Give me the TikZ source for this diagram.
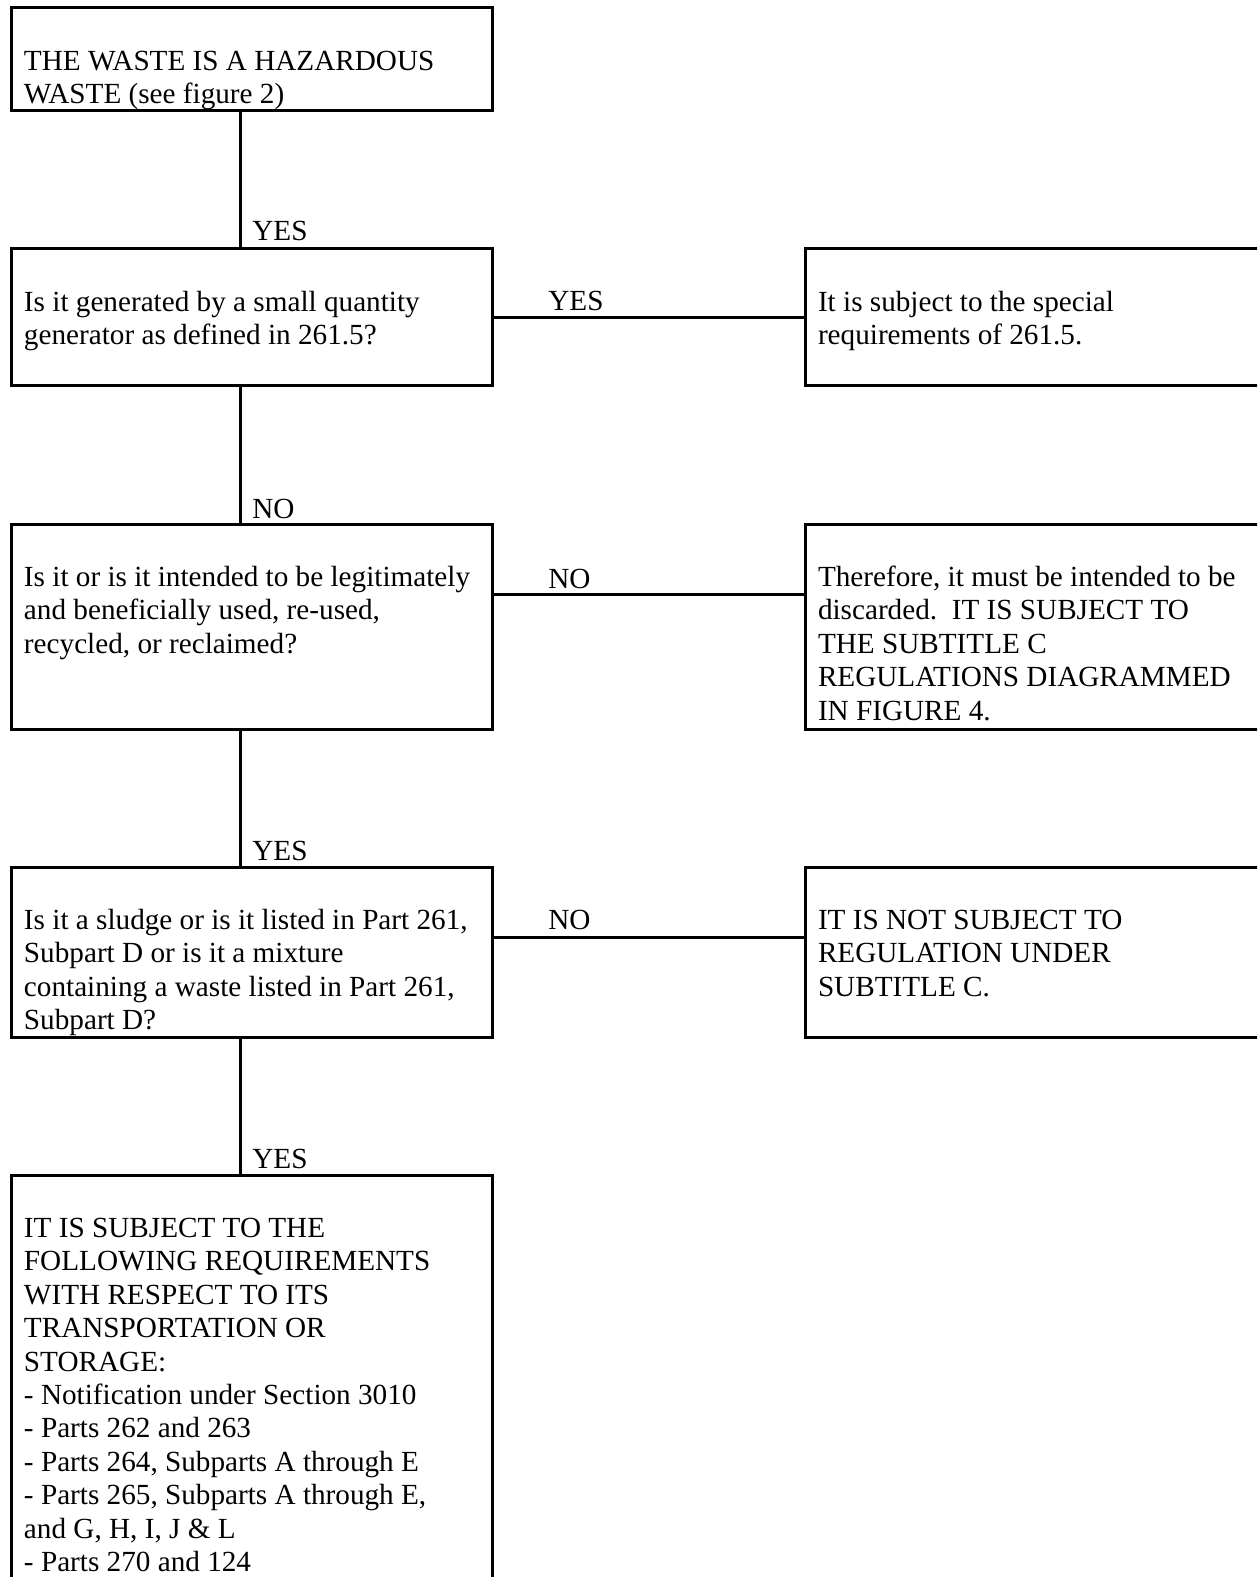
\documentclass[tikz,border=0pt]{standalone}
\usepackage{fontspec}
\setmainfont{Liberation Serif}
\usepackage{tikz}
\usetikzlibrary{positioning,calc}

% text of a box: fixed height, set from the top
\newcommand{\flowtext}[2]{\parbox[b][#1][t]{227.5pt}{\raggedright\vspace*{19.6pt}\strut #2}}

\tikzset{
  flowbox/.style={draw, line width=1.5pt, anchor=north west, outer sep=0pt,
    inner xsep=6.5pt, inner ysep=0pt, minimum width=240.5pt,
    font=\fontsize{14.6pt}{16.7pt}\selectfont},
  answer/.style={anchor=base west, inner sep=0pt,
    font=\fontsize{14.6pt}{16.7pt}\selectfont},
  link/.style={line width=1.5pt}
}

\begin{document}
\begin{tikzpicture}[x=0.5pt,y=-0.5pt]

\useasboundingbox (0,0) rectangle (1257,1577);
\clip (0,0) rectangle (1257,1577);

% Left column of questions
\node[flowbox] (waste) at (11,8) {\flowtext{51.5pt}{THE WASTE IS A HAZARDOUS\\WASTE (see figure 2)}};
\node[flowbox] (smallq) at (11,249) {\flowtext{68.5pt}{Is it generated by a small quantity\\generator as defined in 261.5?}};
\node[flowbox] (reuse) at (11,524) {\flowtext{102.5pt}{Is it or is it intended to be legitimately\\and beneficially used, re-used,\\recycled, or reclaimed?}};
\node[flowbox] (sludge) at (11,867) {\flowtext{85pt}{Is it a sludge or is it listed in Part 261,\\Subpart D or is it a mixture\\containing a waste listed in Part 261,\\Subpart D?}};
\node[flowbox] (subject) at (11,1175) {\flowtext{225pt}{IT IS SUBJECT TO THE\\FOLLOWING REQUIREMENTS\\WITH RESPECT TO ITS\\TRANSPORTATION OR\\STORAGE:\\- Notification under Section 3010\\- Parts 262 and 263\\- Parts 264, Subparts A through E\\- Parts 265, Subparts A through E,\\and G, H, I, J \& L\\- Parts 270 and 124}};

% Right column of outcomes
\node[flowbox] (special) at (805,249) {\flowtext{68.5pt}{It is subject to the special\\requirements of 261.5.}};
\node[flowbox] (discard) at (805,524) {\flowtext{102.5pt}{Therefore, it must be intended to be\\discarded.\ \ IT IS SUBJECT TO\\THE SUBTITLE C\\REGULATIONS DIAGRAMMED\\IN FIGURE 4.}};
\node[flowbox] (notsubj) at (805,867) {\flowtext{85pt}{IT IS NOT SUBJECT TO\\REGULATION UNDER\\SUBTITLE C.}};

% Vertical connectors
\coordinate (trunk) at (240,0);
\draw[link] (waste.south -| trunk) -- (smallq.north -| trunk);
\draw[link] (smallq.south -| trunk) -- (reuse.north -| trunk);
\draw[link] (reuse.south -| trunk) -- (sludge.north -| trunk);
\draw[link] (sludge.south -| trunk) -- (subject.north -| trunk);

% Horizontal connectors
\draw[link] ([yshift=-34.5pt]smallq.north east) -- ([yshift=-34.5pt]special.north west);
\draw[link] ([yshift=-35pt]reuse.north east) -- ([yshift=-35pt]discard.north west);
\draw[link] ([yshift=-35pt]sludge.north east) -- ([yshift=-35pt]notsubj.north west);

% Answers
\node[answer] (yes1) at (252,241) {YES};
\node[answer] (no1) at (252,518) {NO};
\node[answer] (yes3) at (252,860) {YES};
\node[answer] (yes4) at (252,1168) {YES};
\node[answer] (yes2) at (548,311) {YES};
\node[answer] (no2) at (548,588) {NO};
\node[answer] (no3) at (548,929) {NO};

\end{tikzpicture}
\end{document}
